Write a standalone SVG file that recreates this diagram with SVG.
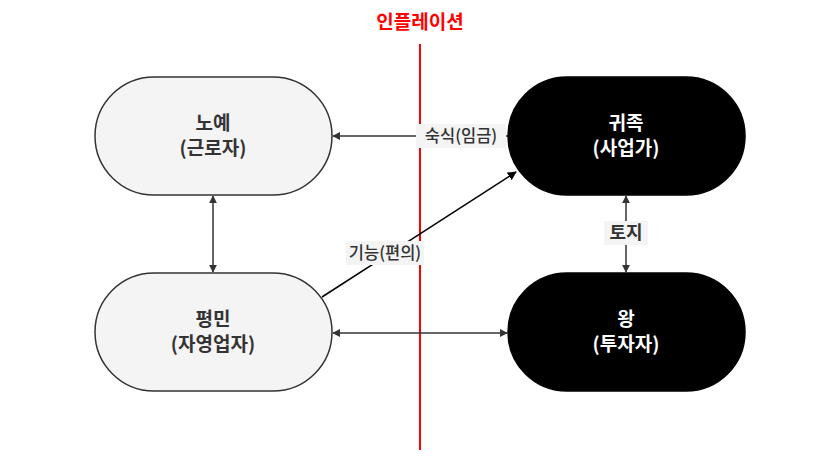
<svg xmlns="http://www.w3.org/2000/svg" width="840" height="466" viewBox="0 0 840 466">
<style>
text{font-family:"Noto Sans CJK KR","Noto Sans",sans-serif;text-anchor:middle}
.light rect{fill:#f4f4f4;stroke:#333;stroke-width:1.5}
.dark rect{fill:#000;stroke:#000;stroke-width:1.5}
.light text{fill:#333;font-size:19px;font-weight:700}
.dark text{fill:#fff;font-size:19px;font-weight:700}
.e{stroke:#333;stroke-width:1.5;fill:none}
.lb{fill:#f4f4f4}
.lt{fill:#333;font-size:16.5px;font-weight:500}
</style>
<defs>
<marker id="ah" viewBox="0 0 10 10" refX="9" refY="5" markerWidth="8" markerHeight="8" orient="auto-start-reverse" markerUnits="userSpaceOnUse"><path d="M0,0L10,5L0,10z" fill="#333"/></marker>
<marker id="ahb" viewBox="0 0 10 10" refX="9" refY="5" markerWidth="9" markerHeight="9" orient="auto" markerUnits="userSpaceOnUse"><path d="M0,0L10,5L0,10z" fill="#000"/></marker>
</defs>
<text x="420" y="29" font-size="19" font-weight="700" fill="#ff0000">인플레이션</text>
<line x1="420" y1="44" x2="420" y2="450" stroke="#ff0000" stroke-width="2"/>
<g id="connectors">
<line class="e" x1="508" y1="136" x2="333" y2="136" marker-end="url(#ah)"/>
<rect class="lb" x="416" y="124" width="90" height="24"/>
<text class="lt" x="461" y="142">숙식(임금)</text>
<line x1="322" y1="297" x2="516" y2="172" stroke="#000" stroke-width="1.5" marker-end="url(#ahb)"/>
<rect class="lb" x="346" y="241" width="78" height="24"/>
<text class="lt" x="385" y="259">기능(편의)</text>
<line class="e" x1="213" y1="196" x2="213" y2="272" marker-start="url(#ah)" marker-end="url(#ah)"/>
<line class="e" x1="626" y1="196" x2="626" y2="272" marker-start="url(#ah)" marker-end="url(#ah)"/>
<rect class="lb" x="604" y="221" width="44" height="24"/>
<text x="626" y="239" font-size="18" font-weight="700" fill="#333">토지</text>
<line class="e" x1="333" y1="333" x2="507" y2="333" marker-start="url(#ah)" marker-end="url(#ah)"/>
</g>
<g id="n1" class="light"><rect x="95" y="77" width="237" height="118" rx="59"/><text x="213" y="130">노예</text><text x="213" y="155">(근로자)</text></g>
<g id="n2" class="light"><rect x="95" y="273" width="237" height="118" rx="59"/><text x="213" y="326">평민</text><text x="213" y="351">(자영업자)</text></g>
<g id="n3" class="dark"><rect x="508" y="77" width="237" height="118" rx="59"/><text x="626" y="130">귀족</text><text x="626" y="155">(사업가)</text></g>
<g id="n4" class="dark"><rect x="508" y="273" width="237" height="118" rx="59"/><text x="626" y="326">왕</text><text x="626" y="351">(투자자)</text></g>
</svg>
